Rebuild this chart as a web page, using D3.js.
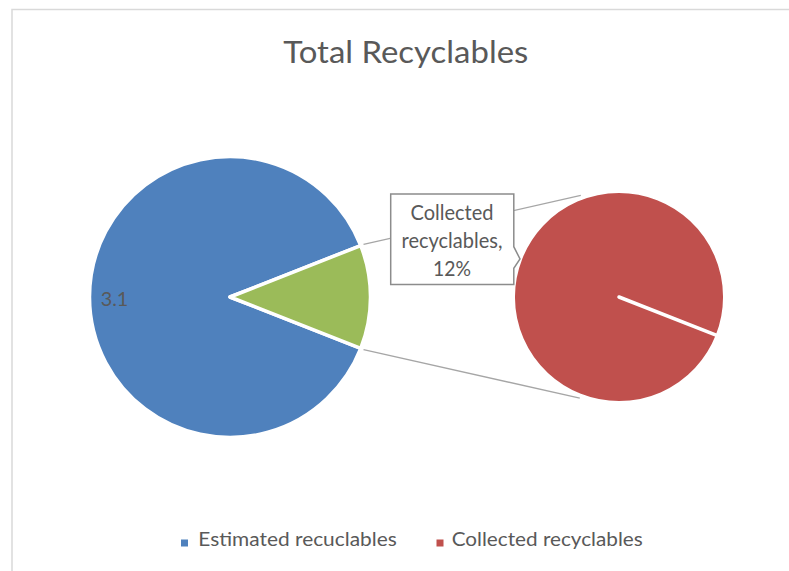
<!DOCTYPE html>
<html>
<head>
<meta charset="utf-8">
<script src="https://cdn.jsdelivr.net/npm/d3@7"></script>
<style>
  html, body { margin: 0; padding: 0; background: #fff; }
  svg { display: block; }
  text { font-family: "Lato", "Open Sans", sans-serif; fill: #595959; }
</style>
</head>
<body>
<svg id="chart" width="789" height="571"></svg>
<script>
// ---- data ----
const title = "Total Recyclables";
const categories = ["Estimated recuclables", "Collected recyclables"];
const values = [3.1, 0.42];
const mainColors = ["#4F81BD", "#9BBB59"];
const secondColor = "#C0504D";
const legendColors = ["#4F81BD", "#C0504D"];
const valueLabel = "3.1";
const calloutLines = ["Collected", "recyclables,", "12%"];

// ---- layout ----
const W = 789, H = 571;
const svg = d3.select("#chart");

svg.append("rect").attr("x", 12).attr("y", 9.5).attr("width", W + 20).attr("height", H + 20)
  .attr("fill", "none").attr("stroke", "#D9D9D9").attr("stroke-width", 1.5);

// text with given font size, squeezed/stretched to a target width
function addText(x, y, s, size, width, anchor) {
  const t = svg.append("text").attr("x", x).attr("y", y).attr("font-size", size)
    .attr("text-anchor", anchor || "start").text(s);
  if (width) t.attr("textLength", width).attr("lengthAdjust", "spacingAndGlyphs");
  return t;
}

addText(405.8, 63.3, title, 31.5, 245, "middle");

const total = d3.sum(values);
const halfOther = Math.PI * values[1] / total;

const c1 = [230, 297], r1 = 140.5;
const c2 = [619, 297], r2 = 105;

const pie = d3.pie().sort(null).value(d => d)
  .startAngle(Math.PI / 2 + halfOther)
  .endAngle(Math.PI / 2 + halfOther + 2 * Math.PI);
const arcs = pie(values);
const arcGen = d3.arc().innerRadius(0).outerRadius(r1);

function pt(c, r, a) { return [c[0] + r * Math.sin(a), c[1] - r * Math.cos(a)]; }
const greenStart = Math.PI / 2 - halfOther, greenEnd = Math.PI / 2 + halfOther;
const pUp = pt(c1, r1 + 3, greenStart), pDn = pt(c1, r1 + 3, greenEnd);
const eDn = pt(c2, r2 + 3.5, Math.PI + 0.37);
const eUp = pt(c2, r2 + 3.5, -0.36);
svg.append("line").attr("x1", pUp[0]).attr("y1", pUp[1]).attr("x2", eUp[0]).attr("y2", eUp[1])
  .attr("stroke", "#A6A6A6").attr("stroke-width", 1.3);
svg.append("line").attr("x1", pDn[0]).attr("y1", pDn[1]).attr("x2", eDn[0]).attr("y2", eDn[1])
  .attr("stroke", "#A6A6A6").attr("stroke-width", 1.3);

const g1 = svg.append("g").attr("transform", `translate(${c1[0]},${c1[1]})`);
g1.selectAll("path").data(arcs).join("path")
  .attr("d", arcGen)
  .attr("fill", (d, i) => mainColors[i])
  .attr("stroke", "#fff").attr("stroke-width", 3.5).attr("stroke-linejoin", "round");

// secondary pie: the collected slice only
const pie2 = d3.pie().sort(null).value(d => d)
  .startAngle(Math.PI / 2 + halfOther).endAngle(Math.PI / 2 + halfOther + 2 * Math.PI);
const arcs2 = pie2([values[1]]);
const arcGen2 = d3.arc().innerRadius(0).outerRadius(r2);
const g2 = svg.append("g").attr("transform", `translate(${c2[0]},${c2[1]})`);
g2.selectAll("path").data(arcs2).join("path")
  .attr("d", arcGen2).attr("fill", secondColor)
  .attr("stroke", "#fff").attr("stroke-width", 2);
const a0 = arcs2[0].startAngle;
g2.append("line").attr("x1", 0).attr("y1", 0)
  .attr("x2", r2 * Math.sin(a0)).attr("y2", -r2 * Math.cos(a0))
  .attr("stroke", "#fff").attr("stroke-width", 3.5).attr("stroke-linecap", "round");

// value label on the blue slice
addText(100.7, 306, valueLabel, 20, 27.6);

// callout box
const bx0 = 390.7, by0 = 194, bx1 = 513.8, by1 = 284.5;
const p = d3.path();
p.moveTo(bx0, by0); p.lineTo(bx1, by0); p.lineTo(bx1, 246.7); p.lineTo(520, 259);
p.lineTo(bx1, 268.3); p.lineTo(bx1, by1); p.lineTo(bx0, by1); p.closePath();
svg.append("path").attr("d", p.toString()).attr("fill", "#fff")
  .attr("stroke", "#8C8C8C").attr("stroke-width", 1.5);
const baselines = [220, 248.3, 275.5];
const widths = [83, 101, 38];
calloutLines.forEach((s, i) => addText(452, baselines[i], s, 21, widths[i], "middle"));

// legend
const legX = [181, 436.5], legTextX = [198.3, 451.7], legW = [198.4, 191];
categories.forEach((c, i) => {
  svg.append("rect").attr("x", legX[i]).attr("y", 539.5).attr("width", 7).attr("height", 7)
    .attr("fill", legendColors[i]);
  addText(legTextX[i], 545.7, c, 19.5, legW[i]);
});
</script>
</body>
</html>
